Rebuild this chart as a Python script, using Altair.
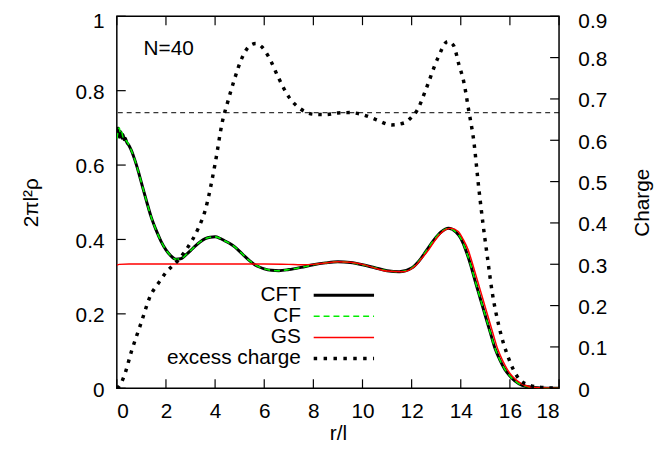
import altair as alt
import pandas as pd

FONT = "Liberation Sans"

# ---- data ----
r_cft = [0, 0.05, 0.1, 0.15, 0.2, 0.25, 0.3, 0.35, 0.4, 0.5, 0.6, 0.7, 0.8, 0.9, 1.0, 1.2, 1.4,
         1.6, 1.8, 2.0, 2.2, 2.4, 2.6, 2.8, 3.0, 3.2, 3.4, 3.6, 3.8, 4.0, 4.2, 4.4, 4.6, 4.8,
         5.0, 5.2, 5.4, 5.6, 5.8, 6.0, 6.3, 6.6, 7.0, 7.5, 8.0, 8.5, 9.0, 9.5, 10.0, 10.5,
         11.0, 11.5, 12.0, 12.3, 12.6, 12.9, 13.2, 13.5, 13.8, 14.0, 14.2, 14.4, 14.6, 14.8,
         15.0, 15.2, 15.4, 15.6, 15.8, 16.0, 16.2, 16.5, 17.0, 17.5, 18.0]
rho_cft = [0.69, 0.70, 0.675, 0.69, 0.672, 0.682, 0.668, 0.672, 0.662, 0.652, 0.638, 0.62,
           0.60, 0.577, 0.553, 0.505, 0.46, 0.425, 0.395, 0.372, 0.356, 0.347, 0.348, 0.358,
           0.37, 0.383, 0.394, 0.402, 0.406, 0.407, 0.403, 0.396, 0.389, 0.38, 0.368, 0.355,
           0.343, 0.333, 0.326, 0.321, 0.317, 0.316, 0.319, 0.325, 0.332, 0.337, 0.34, 0.338,
           0.332, 0.324, 0.316, 0.313, 0.323, 0.342, 0.37, 0.398, 0.42, 0.43, 0.42, 0.403,
           0.372, 0.332, 0.285, 0.24, 0.195, 0.15, 0.106, 0.075, 0.05, 0.033, 0.02, 0.008,
           0.002, 0.0, 0.0]
r_cf = r_cft
rho_cf = [0.67, 0.69, 0.70, 0.685, 0.69, 0.675, 0.675, 0.668, 0.664, 0.653, 0.638, 0.62,
          0.60, 0.577, 0.553, 0.505, 0.46, 0.425, 0.395, 0.372, 0.356, 0.347, 0.348, 0.358,
          0.37, 0.383, 0.394, 0.402, 0.406, 0.407, 0.403, 0.396, 0.389, 0.38, 0.368, 0.355,
          0.343, 0.333, 0.326, 0.321, 0.317, 0.316, 0.319, 0.325, 0.332, 0.337, 0.34, 0.338,
          0.332, 0.324, 0.316, 0.313, 0.323, 0.342, 0.37, 0.398, 0.42, 0.43, 0.42, 0.403,
          0.372, 0.332, 0.285, 0.24, 0.195, 0.15, 0.106, 0.075, 0.05, 0.033, 0.02, 0.008,
          0.002, 0.0, 0.0]
r_gs = [0, 0.1, 0.5, 1, 2, 3, 4, 5, 6, 7, 7.5, 8, 8.5, 9, 9.5, 10, 10.5, 11, 11.6, 12.1,
        12.4, 12.7, 13.0, 13.3, 13.6, 13.9, 14.1, 14.3, 14.5, 14.7, 14.9, 15.1, 15.3, 15.5,
        15.7, 15.9, 16.1, 16.3, 16.6, 17.0, 17.5, 18.0]
rho_gs = [0.331, 0.333, 0.334, 0.334, 0.334, 0.334, 0.334, 0.334, 0.334, 0.333, 0.332, 0.333,
          0.337, 0.34, 0.339, 0.333, 0.323, 0.315, 0.313, 0.326, 0.348, 0.373, 0.402, 0.423,
          0.43, 0.421, 0.40, 0.372, 0.33, 0.285, 0.24, 0.195, 0.15, 0.106, 0.075, 0.05, 0.032,
          0.02, 0.008, 0.002, 0.0005, 0.0]
r_charge = [0, 0.1, 0.3, 0.6, 1.0, 1.36, 1.7, 2.0, 2.5, 2.9, 3.3, 3.6, 4.0, 4.3, 4.52, 4.78,
            5.1, 5.4, 5.65, 5.9, 6.2, 6.59, 7.0, 7.5, 8.0, 8.5, 9.0, 9.5, 10.0, 10.55, 11.18,
            11.7, 12.03, 12.2, 12.6, 13.06, 13.47, 13.7, 13.93, 14.12, 14.33, 14.53, 14.73,
            14.9, 15.08, 15.28, 15.55, 15.95, 16.35, 16.76, 17.3, 18.0]
charge = [0, 0.005, 0.03, 0.09, 0.16, 0.223, 0.255, 0.28, 0.31, 0.342, 0.385, 0.431, 0.543,
          0.646, 0.694, 0.746, 0.80, 0.828, 0.834, 0.826, 0.80, 0.75, 0.705, 0.675, 0.663,
          0.662, 0.666, 0.667, 0.662, 0.65, 0.637, 0.642, 0.658, 0.67, 0.726, 0.798, 0.839,
          0.83, 0.782, 0.742, 0.67, 0.598, 0.486, 0.40, 0.319, 0.232, 0.151, 0.072, 0.024,
          0.008, 0.002, 0.0]
reference_charge = [2 / 3]
x_ticks = [0, 2, 4, 6, 8, 10, 12, 14, 16, 18]
left_ticks = [0, 0.2, 0.4, 0.6, 0.8, 1.0]
right_ticks = [0, 0.1, 0.2, 0.3, 0.4, 0.5, 0.6, 0.7, 0.8, 0.9]
legend_names = ["CFT", "CF", "GS", "excess charge"]
annotation = ["N=40"]
annotation_pos = [1.09, 0.896]

# ---- layout constants ----
W, H = 447, 376
TICK = 9

df_cft = pd.DataFrame({"r": r_cft, "v": rho_cft})
df_cf = pd.DataFrame({"r": r_cf, "v": rho_cf})
df_gs = pd.DataFrame({"r": r_gs, "v": rho_gs})
df_ch = pd.DataFrame({"r": r_charge, "v": charge})
df_ref = pd.DataFrame({"v": reference_charge})
df_xt = pd.DataFrame({"t": x_ticks})
df_lt = pd.DataFrame({"t": left_ticks})
df_rt = pd.DataFrame({"t": right_ticks})
df_one = pd.DataFrame({"a": [0]})
df_ann = pd.DataFrame({"r": [annotation_pos[0]], "v": [annotation_pos[1]], "txt": annotation})

x_scale = alt.Scale(domain=[0, 18], nice=False, zero=False)
left_scale = alt.Scale(domain=[0, 1], nice=False, zero=False)
right_scale = alt.Scale(domain=[0, 0.9], nice=False, zero=False)

axis_font = dict(labelFont=FONT, labelFontSize=21, labelColor="black",
                 titleFont=FONT, titleFontSize=21, titleColor="black",
                 titleFontWeight="normal")

x_axis = alt.Axis(values=x_ticks, format="d", title="r/l", ticks=False, domain=False,
                  grid=False, labelPadding=13, titleY=52, titleBaseline="alphabetic",
                  **axis_font)
left_axis = alt.Axis(orient="left", values=left_ticks, format="~g", title="2πl²ρ",
                     ticks=False, domain=False, grid=False, labelPadding=13,
                     labelOffset={"condition": {"test": "datum.value >= 0.99", "value": 5.5},
                                  "value": 2},
                     titleX=-86, titleY=188, titleAngle=-90, titleAlign="center",
                     titleBaseline="middle", **axis_font)
right_axis = alt.Axis(orient="right", values=right_ticks, format="~g", title="Charge",
                      ticks=False, domain=False, grid=False, labelPadding=19,
                      labelOffset={"condition": {"test": "datum.value >= 0.89", "value": 5.5},
                                   "value": 2},
                      titleX=84, titleY=188, titleAngle=-90, titleAlign="center",
                      titleBaseline="middle", **axis_font)


def X(field):
    return alt.X(f"{field}:Q", scale=x_scale, axis=x_axis)


def line(df, color, width, dash=None, yscale=left_scale, axis=None):
    kw = dict(color=color, strokeWidth=width, interpolate="monotone", strokeCap="butt", clip=True)
    if dash:
        kw["strokeDash"] = dash
    return alt.Chart(df).mark_line(**kw).encode(
        x=X("r"), y=alt.Y("v:Q", scale=yscale, axis=axis))


cft = line(df_cft, "black", 3, axis=left_axis)
cf = line(df_cf, "#00ee00", 1.6, dash=[6, 4])
gs = line(df_gs, "#ff0000", 1.5)
ch = line(df_ch, "black", 3.5, dash=[3.5, 6], yscale=right_scale, axis=right_axis)

ref = alt.Chart(df_ref).mark_rule(color="black", strokeWidth=1, strokeDash=[5, 4]).encode(
    y=alt.Y("v:Q", scale=right_scale, axis=None))

tick_style = dict(color="black", strokeWidth=1.2)
top_ticks = alt.Chart(df_xt).mark_rule(**tick_style).encode(
    x=X("t"), y=alt.value(0), y2=alt.value(TICK))
bot_ticks = alt.Chart(df_xt).mark_rule(**tick_style).encode(
    x=X("t"), y=alt.value(H), y2=alt.value(H - TICK))
l_ticks = alt.Chart(df_lt).mark_rule(**tick_style).encode(
    y=alt.Y("t:Q", scale=left_scale, axis=None), x=alt.value(0), x2=alt.value(TICK))
r_ticks = alt.Chart(df_rt).mark_rule(**tick_style).encode(
    y=alt.Y("t:Q", scale=right_scale, axis=None), x=alt.value(W), x2=alt.value(W - TICK))

ann = alt.Chart(df_ann).mark_text(align="left", baseline="alphabetic", font=FONT,
                                  fontSize=21, color="black").encode(
    x=X("r"), y=alt.Y("v:Q", scale=left_scale, axis=None), text="txt:N")

# legend (drawn as text + sample lines, label left of sample as in the reference)
leg_styles = [
    dict(color="black", strokeWidth=3),
    dict(color="#00ee00", strokeWidth=1.6, strokeDash=[6, 4]),
    dict(color="#ff0000", strokeWidth=1.5),
    dict(color="black", strokeWidth=3.5, strokeDash=[3.5, 6.5], strokeCap="butt"),
]
legend_layers = []
for i, (name, st) in enumerate(zip(legend_names, leg_styles)):
    yy = 282 + i * 21.3
    legend_layers.append(
        alt.Chart(pd.DataFrame({"txt": [name]})).mark_text(
            align="right", baseline="middle", font=FONT, fontSize=21, color="black").encode(
            x=alt.value(186), y=alt.value(yy), text="txt:N"))
    legend_layers.append(
        alt.Chart(df_one).mark_rule(**st).encode(
            x=alt.value(199), x2=alt.value(260), y=alt.value(yy)))

chart = alt.layer(
    cft, cf, gs, ch, ref, top_ticks, bot_ticks, l_ticks, r_ticks, ann, *legend_layers
).resolve_scale(y="independent").properties(
    width=W, height=H,
    autosize=alt.AutoSizeParams(type="none"),
    padding={"left": 110, "top": 6, "right": 97, "bottom": 55},
    background="white",
).configure_view(stroke="black", strokeWidth=1.5)

chart.save("out.html", embed_options={"renderer": "svg", "actions": False})
